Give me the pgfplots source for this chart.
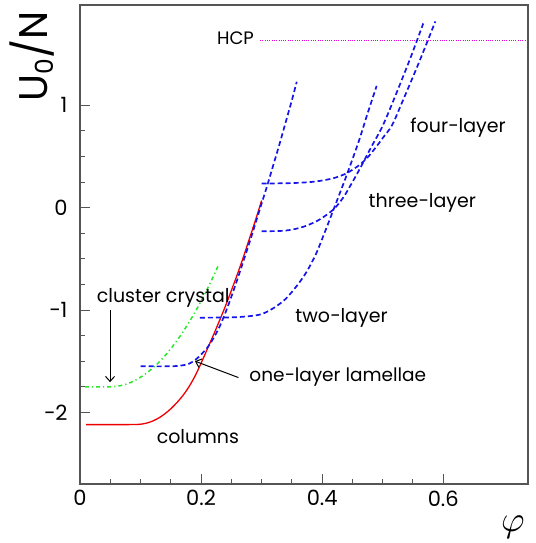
\documentclass[border=0pt]{standalone}
\usepackage{pgfplots}
\pgfplotsset{compat=1.18}
\usepackage{fontspec}
\setmainfont{Poppins}
\usetikzlibrary{arrows.meta}
\definecolor{myblue}{RGB}{20,20,235}
\definecolor{myred}{RGB}{240,0,0}
\definecolor{mygreen}{RGB}{40,230,40}
\definecolor{mymag}{RGB}{230,0,230}
\definecolor{frame}{RGB}{85,85,85}
\begin{document}
\begin{tikzpicture}
\begin{axis}[
  scale only axis, width=448pt, height=479pt,
  xmin=0, xmax=0.74, ymin=-2.7, ymax=1.98,
  xtick={0,0.2,0.4,0.6}, xticklabels={0,0.2,0.4,0.6},
  ytick={-2,-1,0,1}, yticklabels={−2,−1,0,1},
  minor x tick num=3, minor y tick num=3,
  xtick pos=bottom, ytick pos=left, tick align=inside,
  major tick length=10pt, minor tick length=5pt,
  axis line style={frame, line width=1.2pt},
  every tick/.style={frame, line width=1pt},
  ticklabel style={font=\fontsize{21}{21}\selectfont},
  xticklabel style={yshift=-3pt},
  yticklabel style={xshift=-9pt},
  clip=false,
]
% HCP
\addplot[mymag, line width=1.3pt, dash pattern=on 1pt off 1.3pt] coordinates {(0.2975,1.63) (0.74,1.63)};
% cluster crystal
\addplot[mygreen, line width=1.5pt, dash pattern=on 4pt off 3pt on 1.2pt off 3pt, smooth] coordinates {
(0.008,-1.75) (0.03,-1.75) (0.05,-1.75) (0.06,-1.746) (0.07,-1.735) (0.08,-1.717) (0.09,-1.69) (0.10,-1.657)
(0.11,-1.616) (0.12,-1.568) (0.13,-1.512) (0.14,-1.449) (0.15,-1.378) (0.16,-1.30) (0.17,-1.214)
(0.18,-1.121) (0.19,-1.021) (0.20,-0.913) (0.21,-0.798) (0.22,-0.675) (0.228,-0.571)};
% columns
\addplot[myred, line width=1.3pt, smooth] coordinates {
(0.01,-2.12) (0.04,-2.12) (0.07,-2.12) (0.09,-2.119) (0.10,-2.116) (0.11,-2.105) (0.12,-2.085) (0.13,-2.055)
(0.14,-2.015) (0.15,-1.965) (0.16,-1.905) (0.17,-1.835) (0.18,-1.75) (0.19,-1.645) (0.20,-1.52)
(0.21,-1.385) (0.22,-1.25) (0.23,-1.11) (0.24,-0.965) (0.25,-0.81) (0.26,-0.65) (0.27,-0.48)
(0.28,-0.30) (0.29,-0.12) (0.30,0.07)};
% one-layer
\addplot[myblue, line width=1.7pt, dash pattern=on 5pt off 3pt, smooth] coordinates {
(0.10,-1.55) (0.15,-1.55) (0.17,-1.54) (0.18,-1.525) (0.19,-1.49) (0.20,-1.435) (0.21,-1.37) (0.22,-1.28)
(0.23,-1.17) (0.24,-1.03) (0.25,-0.87) (0.26,-0.70) (0.27,-0.52) (0.28,-0.34) (0.29,-0.15) (0.30,0.04)
(0.31,0.23) (0.32,0.43) (0.33,0.63) (0.34,0.84) (0.35,1.05) (0.358,1.23)};
% two-layer
\addplot[myblue, line width=1.7pt, dash pattern=on 5pt off 3pt, smooth] coordinates {
(0.198,-1.075) (0.25,-1.072) (0.28,-1.06) (0.30,-1.04) (0.32,-0.98) (0.34,-0.89) (0.36,-0.75)
(0.375,-0.62) (0.39,-0.45) (0.405,-0.23) (0.42,0.0) (0.44,0.31) (0.46,0.64) (0.475,0.92) (0.49,1.19)};
% three-layer
\addplot[myblue, line width=1.7pt, dash pattern=on 5pt off 3pt, smooth] coordinates {
(0.30,-0.23) (0.33,-0.228) (0.35,-0.215) (0.37,-0.185) (0.39,-0.135) (0.405,-0.08) (0.42,-0.01)
(0.435,0.10) (0.45,0.25) (0.465,0.41) (0.48,0.58) (0.50,0.80) (0.52,1.08) (0.545,1.45) (0.567,1.80)};
% four-layer
\addplot[myblue, line width=1.7pt, dash pattern=on 5pt off 3pt, smooth] coordinates {
(0.30,0.235) (0.35,0.24) (0.38,0.25) (0.40,0.265) (0.42,0.29) (0.44,0.335) (0.46,0.41) (0.475,0.49)
(0.49,0.60) (0.50,0.68) (0.515,0.80) (0.53,1.00) (0.56,1.42) (0.587,1.82)};
% labels
\node[anchor=base east, font=\fontsize{18}{18}\selectfont] at (axis cs:0.293,1.59) {HCP};
\node[anchor=base west, font=\fontsize{19}{19}\selectfont] at (axis cs:0.022,-0.924) {cluster crystal};
\node[anchor=base west, font=\fontsize{18.5}{18.5}\selectfont] at (axis cs:0.274,-1.70) {one−layer lamellae};
\node[anchor=base west, font=\fontsize{19}{19}\selectfont] at (axis cs:0.121,-2.305) {columns};
\node[anchor=base west, font=\fontsize{19}{19}\selectfont] at (axis cs:0.350,-1.12) {two−layer};
\node[anchor=base west, font=\fontsize{19}{19}\selectfont] at (axis cs:0.471,-0.003) {three−layer};
\node[anchor=base west, font=\fontsize{19}{19}\selectfont] at (axis cs:0.540,0.739) {four−layer};
\draw[-{Straight Barb[length=5pt,width=9pt]}, line width=1pt] (axis cs:0.0496,-1.0) -- (axis cs:0.0496,-1.705);
\draw[-{Straight Barb[length=5pt,width=9pt]}, line width=1pt] (axis cs:0.2617,-1.66) -- (axis cs:0.19,-1.50);
\node[rotate=90, anchor=base east, font=\fontsize{40}{40}\selectfont] at ([xshift=-32pt,yshift=-3pt]rel axis cs:0,1) {U\raisebox{-0.25ex}{\fontsize{25}{25}\selectfont 0}/N};
\node[inner sep=0pt] at ([xshift=-15pt,yshift=-43pt]rel axis cs:1,0) {\scalebox{3.6}{$\varphi$}};
\end{axis}
\pgfresetboundingbox
\path[use as bounding box] ([shift={(-80pt,-59pt)}]current axis.south west) rectangle ([shift={(8pt,5pt)}]current axis.north east);
\end{tikzpicture}
\end{document}
